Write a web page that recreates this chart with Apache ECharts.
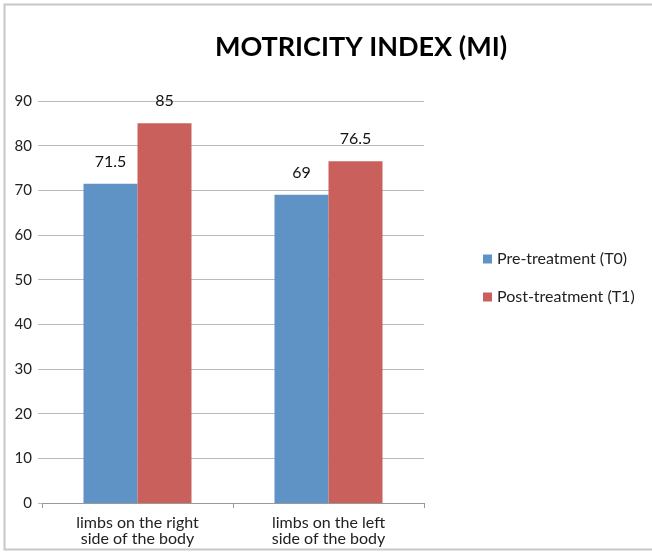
<!DOCTYPE html>
<html>
<head>
<meta charset="utf-8">
<script src="https://cdn.jsdelivr.net/npm/echarts@6/dist/echarts.min.js"></script>
<style>
  html, body { margin: 0; padding: 0; background: #fff; }
  #chart { width: 652px; height: 552px; }
</style>
</head>
<body>
<div id="chart"></div>
<script>
// data
const categories = ['limbs on the right\nside of the body', 'limbs on the left\nside of the body']
const seriesNames = ['Pre-treatment (T0)', 'Post-treatment (T1)']
const preValues = [71.5, 69]
const postValues = [85, 76.5]
const yTicks = [0, 10, 20, 30, 40, 50, 60, 70, 80, 90]

const chart = echarts.init(document.getElementById('chart'))
const font = 'Lato, "Open Sans", sans-serif'

const option = {
  animation: false,
  textStyle: { fontFamily: font },
  title: {
    text: 'MOTRICITY INDEX (MI)',
    left: 356,
    top: 29,
    textAlign: 'center',
    textStyle: { fontSize: 27, fontWeight: 'bold', color: '#000', fontFamily: font }
  },
  graphic: [
    // frame round the whole chart
    { type: 'rect', shape: { x: 4.5, y: 4.5, width: 700, height: 545 },
      style: { fill: 'none', stroke: '#c8c8c8', lineWidth: 2 }, silent: true }
  ],
  legend: {
    orient: 'vertical',
    left: 478,
    top: 246,
    itemGap: 22,
    itemWidth: 9,
    itemHeight: 9,
    icon: 'rect',
    textStyle: { fontSize: 16, color: '#222', fontFamily: font },
    data: seriesNames
  },
  grid: { left: 42, right: 228, top: 101, bottom: 49 },
  xAxis: {
    type: 'category',
    data: categories,
    axisLine: { lineStyle: { color: '#999' } },
    axisTick: { show: true, length: 5, lineStyle: { color: '#999' } },
    axisLabel: { fontSize: 16, color: '#222', lineHeight: 16, margin: 12, fontFamily: font }
  },
  yAxis: {
    type: 'value',
    min: yTicks[0],
    max: yTicks[yTicks.length - 1],
    interval: 10,
    axisLine: { show: false },
    axisTick: { show: true, length: 4, lineStyle: { color: '#bbb' } },
    axisLabel: { fontSize: 15, color: '#222', margin: 10, fontFamily: font },
    splitLine: { lineStyle: { color: '#bbb', width: 1.2 } }
  },
  series: [
    {
      name: seriesNames[0],
      type: 'bar',
      data: preValues,
      barWidth: 54,
      barGap: '0%',
      itemStyle: { color: '#5f92c5' },
      label: { show: true, position: 'top', distance: 14, fontSize: 16, color: '#111', fontFamily: font }
    },
    {
      name: seriesNames[1],
      type: 'bar',
      data: postValues,
      barWidth: 54,
      barGap: '0%',
      itemStyle: { color: '#c9605c' },
      label: { show: true, position: 'top', distance: 14, fontSize: 16, color: '#111', fontFamily: font }
    }
  ]
}
chart.setOption(option)
</script>
</body>
</html>
